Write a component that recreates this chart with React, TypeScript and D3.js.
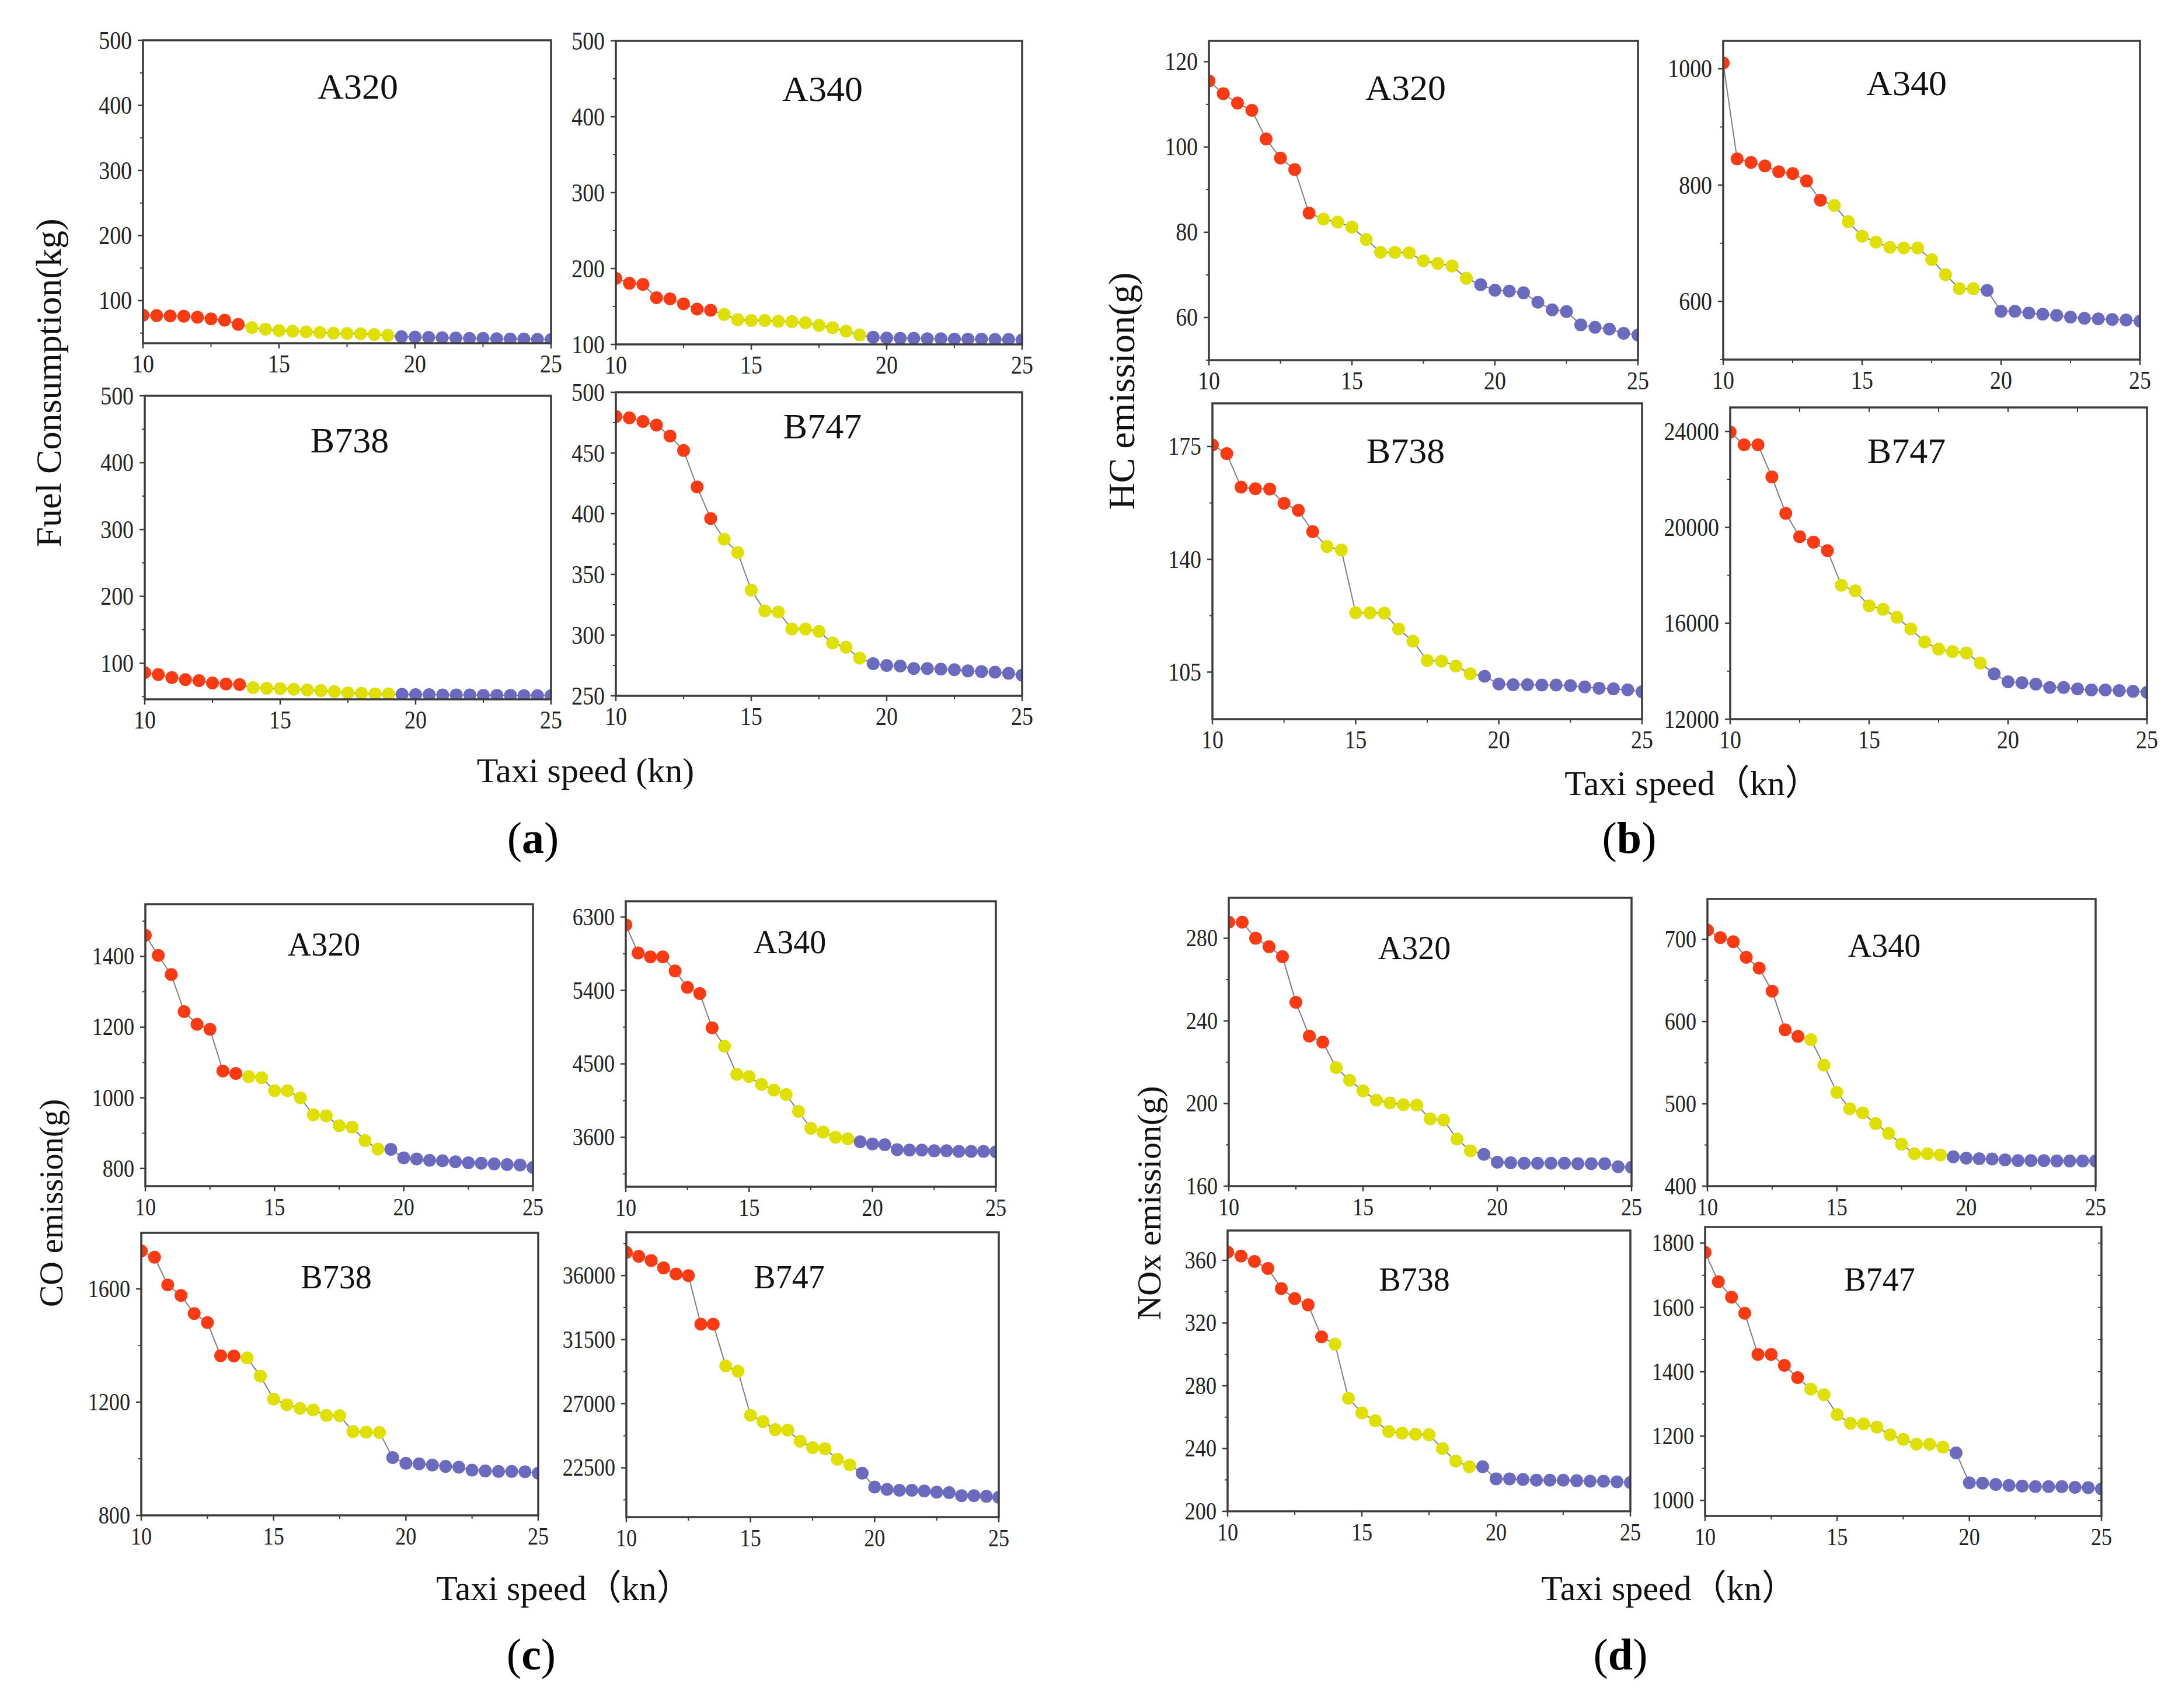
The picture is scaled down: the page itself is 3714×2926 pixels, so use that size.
import React from 'react';
import * as d3 from 'd3';

const W = 3714;
const H = 2926;

// taxi speed (kn), shared by every small plot
const taxiSpeeds = [10, 10.5, 11, 11.5, 12, 12.5, 13, 13.5, 14, 14.5, 15, 15.5, 16, 16.5, 17, 17.5, 18, 18.5, 19, 19.5, 20, 20.5, 21, 21.5, 22, 22.5, 23, 23.5, 24, 24.5, 25];
const speedTicks = [10, 15, 20, 25];
const speedMinor = [12.5, 17.5, 22.5];
// colour groups: red up to 13.5 kn, yellow up to 19 kn, blue after
const groupLimits = [13.5, 19];
const groupColors = ['#fa3a12', '#dfe000', '#6a6abf'];

// (a) fuel consumption, kg
const fuelA320 = [77.5, 77, 76.5, 76, 74.5, 72, 70, 63.5, 58.5, 56, 54, 53, 52, 51, 50, 49.5, 49, 48, 46.5, 44.5, 44, 43.5, 43, 42.5, 42, 42, 41.5, 41, 41, 40.5, 40];
const fuelA340 = [187, 180.5, 179, 161.5, 160, 153.5, 146.5, 145, 139.5, 132.5, 131.5, 131.5, 130.5, 130, 128.5, 125, 122, 117.5, 112.5, 109.5, 108.5, 108, 108, 107.5, 107.5, 107, 107, 107, 106.5, 106.5, 106];
const fuelB738 = [86, 83, 78.5, 75.5, 74, 70.5, 69, 68, 63.5, 62.5, 62, 61, 60, 59, 57.5, 55.5, 55, 54, 54, 53.5, 53, 53, 52.5, 52.5, 52.5, 52, 52, 52, 51.5, 51.5, 51.5];
const fuelB747 = [480, 479, 476, 473, 464, 452, 422, 396, 379, 368, 337, 320, 319, 305, 305, 303, 293.5, 290, 281, 276.5, 275, 274.5, 272.5, 272.5, 272, 271.5, 270.5, 270, 269.5, 268.5, 267];

// (b) HC emission, g
const hcA320 = [115.5, 112.5, 110.3, 108.6, 101.9, 97.4, 94.7, 84.5, 83.1, 82.4, 81.2, 78.3, 75.3, 75.3, 75.2, 73.3, 72.7, 72.1, 69.2, 67.7, 66.4, 66.2, 65.8, 63.6, 61.8, 61.4, 58.3, 57.7, 57.3, 56.3, 55.9];
const hcA340 = [1010, 845, 839, 833, 823, 820, 807, 774, 765, 737, 712, 702, 693, 692, 692, 672, 646, 622, 622, 619, 583, 583, 580, 578, 576, 573, 571, 570, 569, 568, 566];
const hcB738 = [175.5, 172.8, 162.4, 161.9, 161.8, 157.4, 155.2, 148.6, 144, 142.9, 123.4, 123.4, 123.3, 118.4, 114.6, 108.6, 108.4, 106.9, 104.5, 103.7, 101.3, 101.1, 101.1, 101, 101, 100.8, 100.4, 100, 99.8, 99.5, 98.9];
const hcB747 = [23970, 23440, 23440, 22100, 20580, 19610, 19380, 19030, 17580, 17350, 16730, 16580, 16250, 15760, 15220, 14920, 14820, 14760, 14340, 13890, 13560, 13520, 13460, 13320, 13320, 13260, 13220, 13220, 13190, 13160, 13120];

// (c) CO emission, g
const coA320 = [1460, 1403, 1349, 1244, 1208, 1194, 1076, 1069, 1060, 1057, 1020, 1020, 1000, 952, 949, 921, 917, 879, 855, 854, 830, 827, 823, 822, 819, 816, 815, 813, 811, 810, 803];
const coA340 = [6204, 5859, 5812, 5812, 5639, 5438, 5363, 4942, 4716, 4372, 4344, 4248, 4179, 4124, 3917, 3710, 3664, 3600, 3581, 3545, 3518, 3509, 3449, 3443, 3443, 3435, 3435, 3427, 3427, 3427, 3421];
const coB738 = [1734, 1712, 1614, 1577, 1513, 1481, 1364, 1363, 1356, 1292, 1211, 1191, 1178, 1172, 1153, 1152, 1096, 1094, 1093, 1004, 984, 982, 978, 973, 970, 960, 957, 955, 955, 954, 949];
const coB747 = [37627, 37350, 37058, 36537, 36114, 36000, 32583, 32583, 29655, 29280, 26189, 25750, 25180, 25148, 24367, 23912, 23846, 23098, 22707, 22122, 21145, 20983, 20918, 20918, 20869, 20787, 20755, 20544, 20544, 20495, 20430];

// (d) NOx emission, g
const noxA320 = [287.8, 287.8, 280, 275.9, 271.1, 249, 232.6, 229.7, 217.4, 211.2, 206.1, 201.6, 200.3, 199.4, 199.2, 192.6, 192, 182.8, 177.1, 175.4, 171.6, 171.3, 171.1, 171.1, 171.1, 171.1, 170.9, 170.9, 170.9, 169.4, 169.1];
const noxA340 = [711, 702, 697, 678, 665, 637, 590, 582, 578, 547, 514, 494, 489, 476, 464, 451, 439.4, 439.4, 438, 435.6, 434, 433.4, 433, 432, 431, 431, 431, 430.6, 430.6, 430.6, 430.6];
const noxB738 = [365.2, 362.7, 359.3, 354.8, 342, 335.6, 331.6, 311.2, 306.5, 272, 262.7, 257.7, 250.9, 249.8, 249.1, 248.8, 240, 232, 228.4, 228.4, 220.7, 220.7, 220.3, 219.8, 219.8, 219.8, 219.5, 219.2, 219.2, 218.8, 218.3];
const noxB747 = [1771, 1680, 1632, 1582, 1454, 1454, 1420, 1382, 1346, 1329, 1267, 1240, 1238, 1228, 1204, 1190, 1175, 1175, 1166, 1148, 1055, 1054, 1050, 1047, 1045, 1043, 1043, 1043, 1041, 1040, 1036];

// y tick labels
const fuelA320Ticks = [100, 200, 300, 400, 500];
const fuelA340Ticks = [100, 200, 300, 400, 500];
const fuelB738Ticks = [100, 200, 300, 400, 500];
const fuelB747Ticks = [250, 300, 350, 400, 450, 500];
const hcA320Ticks = [60, 80, 100, 120];
const hcA340Ticks = [600, 800, 1000];
const hcB738Ticks = [105, 140, 175];
const hcB747Ticks = [12000, 16000, 20000, 24000];
const coA320Ticks = [800, 1000, 1200, 1400];
const coA340Ticks = [3600, 4500, 5400, 6300];
const coB738Ticks = [800, 1200, 1600];
const coB747Ticks = [22500, 27000, 31500, 36000];
const noxA320Ticks = [160, 200, 240, 280];
const noxA340Ticks = [400, 500, 600, 700];
const noxB738Ticks = [200, 240, 280, 320, 360];
const noxB747Ticks = [1000, 1200, 1400, 1600, 1800];

const SERIF = "'Liberation Serif', 'Times New Roman', serif";
const SERIF_CJK = "'Liberation Serif', 'Noto Sans CJK SC', serif";

interface Sub {
  id: string;
  name: string;
  values: number[];
  ticks: number[];
  minor: number;
  domain: [number, number];
  box: [number, number, number, number];
  label: [number, number];
  topTicks?: boolean;
  rightTicks?: boolean;
}

interface Panel {
  tag: string;
  yTitle: string;
  yTitlePos: [number, number];
  yTitleSize: number;
  xTitle: string;
  xTitlePos: [number, number];
  tagPos: [number, number];
  nameSize: number;
  tickSize: number;
  subs: Sub[];
}

const panels: Panel[] = [
  {
    tag: 'a', yTitle: 'Fuel Consumption(kg)', yTitlePos: [85, 656], yTitleSize: 62,
    xTitle: 'Taxi speed (kn)', xTitlePos: [1003, 1340], tagPos: [913, 1461], nameSize: 62, tickSize: 44,
    subs: [
      { id: 'fa320', name: 'A320', values: fuelA320, ticks: fuelA320Ticks, minor: 50, domain: [34.5, 500], box: [245, 69, 944, 588], label: [613, 100] },
      { id: 'fa340', name: 'A340', values: fuelA340, ticks: fuelA340Ticks, minor: 50, domain: [100, 500], box: [1055, 70, 1751, 590], label: [1409, 103] },
      { id: 'fb738', name: 'B738', values: fuelB738, ticks: fuelB738Ticks, minor: 50, domain: [46, 500], box: [248, 678, 944, 1198], label: [599, 97] },
      { id: 'fb747', name: 'B747', values: fuelB747, ticks: fuelB747Ticks, minor: 25, domain: [250, 500], box: [1055, 672, 1751, 1192], label: [1409, 79] },
    ],
  },
  {
    tag: 'b', yTitle: 'HC emission(g)', yTitlePos: [1924, 670], yTitleSize: 64,
    xTitle: 'Taxi speed（kn）', xTitlePos: [2899, 1362], tagPos: [2791, 1461], nameSize: 62, tickSize: 44,
    subs: [
      { id: 'ha320', name: 'A320', values: hcA320, ticks: hcA320Ticks, minor: 10, domain: [50, 124.9], box: [2071, 70, 2806, 617], label: [2408, 101] },
      { id: 'ha340', name: 'A340', values: hcA340, ticks: hcA340Ticks, minor: 100, domain: [500, 1048], box: [2952, 70, 3666, 616], label: [3266, 93] },
      { id: 'hb738', name: 'B738', values: hcB738, ticks: hcB738Ticks, minor: 17.5, domain: [90.4, 188.4], box: [2077, 691, 2813, 1232], label: [2408, 102] },
      { id: 'hb747', name: 'B747', values: hcB747, ticks: hcB747Ticks, minor: 2000, domain: [12000, 25000], box: [2964, 698, 3678, 1232], label: [3266, 95], topTicks: true },
    ],
  },
  {
    tag: 'c', yTitle: 'CO emission(g)', yTitlePos: [90, 2061], yTitleSize: 56,
    xTitle: 'Taxi speed（kn）', xTitlePos: [966, 2741], tagPos: [910, 2860], nameSize: 56, tickSize: 42,
    subs: [
      { id: 'ca320', name: 'A320', values: coA320, ticks: coA320Ticks, minor: 100, domain: [750, 1548], box: [249, 1549, 913, 2032], label: [555, 88] },
      { id: 'ca340', name: 'A340', values: coA340, ticks: coA340Ticks, minor: 450, domain: [2994, 6493], box: [1072, 1544, 1706, 2033], label: [1353, 89] },
      { id: 'cb738', name: 'B738', values: coB738, ticks: coB738Ticks, minor: 200, domain: [800, 1798], box: [242, 2112, 922, 2596], label: [576, 95] },
      { id: 'cb747', name: 'B747', values: coB747, ticks: coB747Ticks, minor: 2250, domain: [19034, 39042], box: [1073, 2111, 1711, 2599], label: [1352, 96] },
    ],
  },
  {
    tag: 'd', yTitle: 'NOx emission(g)', yTitlePos: [1971, 2061], yTitleSize: 58,
    xTitle: 'Taxi speed（kn）', xTitlePos: [2859, 2741], tagPos: [2776, 2860], nameSize: 56, tickSize: 42,
    subs: [
      { id: 'na320', name: 'A320', values: noxA320, ticks: noxA320Ticks, minor: 20, domain: [160, 299.6], box: [2105, 1538, 2795, 2032], label: [2423, 105] },
      { id: 'na340', name: 'A340', values: noxA340, ticks: noxA340Ticks, minor: 50, domain: [400, 749], box: [2925, 1540, 3590, 2032], label: [3228, 99] },
      { id: 'nb738', name: 'B738', values: noxB738, ticks: noxB738Ticks, minor: 20, domain: [200, 379], box: [2103, 2108, 2793, 2589], label: [2423, 103] },
      { id: 'nb747', name: 'B747', values: noxB747, ticks: noxB747Ticks, minor: 100, domain: [952, 1850], box: [2921, 2102, 3600, 2597], label: [3220, 109], rightTicks: true },
    ],
  },
];

const colorFor = (s: number) =>
  s <= groupLimits[0] ? groupColors[0] : s <= groupLimits[1] ? groupColors[1] : groupColors[2];

const AXIS = '#3c3c3c';

const SmallPlot: React.FC<{ s: Sub; nameSize: number; tickSize: number }> = ({ s, nameSize, tickSize }) => {
  const [l, t, r, b] = s.box;
  const x = d3.scaleLinear().domain([10, 25]).range([l, r]);
  const y = d3.scaleLinear().domain(s.domain).range([b, t]);
  const line = d3.line<number>()
    .x((_, i) => x(taxiSpeeds[i]))
    .y(d => y(d));

  const minorY = d3.range(Math.ceil(s.domain[0] / s.minor) * s.minor, s.domain[1] + 1e-6, s.minor)
    .filter(v => !s.ticks.some(tk => Math.abs(tk - v) < 1e-6));
  const digitW = tickSize * 0.43;

  return (
    <g>
      <defs>
        <clipPath id={`clip-${s.id}`}>
          <rect x={l} y={t} width={r - l} height={b - t} />
        </clipPath>
      </defs>
      <g clipPath={`url(#clip-${s.id})`}>
        <path d={line(s.values) || ''} fill="none" stroke="#808080" strokeWidth={2} />
        {s.values.map((v, i) => (
          <circle key={i} cx={x(taxiSpeeds[i])} cy={y(v)} r={11} fill={colorFor(taxiSpeeds[i])} />
        ))}
      </g>
      <rect x={l} y={t} width={r - l} height={b - t} fill="none" stroke={AXIS} strokeWidth={3.5} />
      {/* y ticks */}
      {s.ticks.map(v => (
        <g key={`y${v}`}>
          <line x1={l - 9} x2={l} y1={y(v)} y2={y(v)} stroke={AXIS} strokeWidth={2.5} />
          <text x={l - 19} y={y(v)} dy="0.33em" textAnchor="end" fontFamily={SERIF} fontSize={tickSize}
            textLength={String(v).length * digitW} lengthAdjust="spacingAndGlyphs" fill="#222">{v}</text>
        </g>
      ))}
      {minorY.map(v => (
        <line key={`ym${v}`} x1={l - 5} x2={l} y1={y(v)} y2={y(v)} stroke={AXIS} strokeWidth={2} />
      ))}
      {s.rightTicks && minorY.concat(s.ticks).map(v => (
        <line key={`yr${v}`} x1={r - 6} x2={r} y1={y(v)} y2={y(v)} stroke={AXIS} strokeWidth={2} />
      ))}
      {/* x ticks */}
      {speedTicks.map(v => (
        <g key={`x${v}`}>
          <line x1={x(v)} x2={x(v)} y1={b} y2={b + 9} stroke={AXIS} strokeWidth={2.5} />
          <text x={x(v)} y={b + 50} textAnchor="middle" fontFamily={SERIF} fontSize={tickSize}
            textLength={String(v).length * digitW} lengthAdjust="spacingAndGlyphs" fill="#222">{v}</text>
        </g>
      ))}
      {speedMinor.map(v => (
        <line key={`xm${v}`} x1={x(v)} x2={x(v)} y1={b} y2={b + 6} stroke={AXIS} strokeWidth={2} />
      ))}
      {s.topTicks && speedMinor.concat(speedTicks).map(v => (
        <line key={`xt${v}`} x1={x(v)} x2={x(v)} y1={t} y2={t + 8} stroke={AXIS} strokeWidth={2} />
      ))}
      <text x={s.label[0]} y={t + s.label[1]} textAnchor="middle" fontFamily={SERIF} fontSize={nameSize} fill="#111">
        {s.name}
      </text>
    </g>
  );
};

const App: React.FC = () => {
  return (
    <svg width={W} height={H} viewBox={`0 0 ${W} ${H}`}
      style={{ position: 'absolute', left: 0, top: 0, background: '#fff' }}>
      <rect x={0} y={0} width={W} height={H} fill="#fff" />
      {panels.map(p => (
        <g key={p.tag}>
          {p.subs.map(s => (
            <SmallPlot key={s.id} s={s} nameSize={p.nameSize} tickSize={p.tickSize} />
          ))}
          <text transform={`translate(${p.yTitlePos[0]},${p.yTitlePos[1]}) rotate(-90)`} dy="0.3em"
            textAnchor="middle" fontFamily={SERIF} fontSize={p.yTitleSize} fill="#111">{p.yTitle}</text>
          <text x={p.xTitlePos[0]} y={p.xTitlePos[1]} textAnchor="middle" fontFamily={SERIF_CJK}
            fontSize={60} fill="#111">{p.xTitle}</text>
          <text x={p.tagPos[0]} y={p.tagPos[1]} textAnchor="middle" fontFamily={SERIF} fontSize={76} fill="#000">
            <tspan>(</tspan><tspan fontWeight="bold">{p.tag}</tspan><tspan>)</tspan>
          </text>
        </g>
      ))}
    </svg>
  );
};

export default App;
